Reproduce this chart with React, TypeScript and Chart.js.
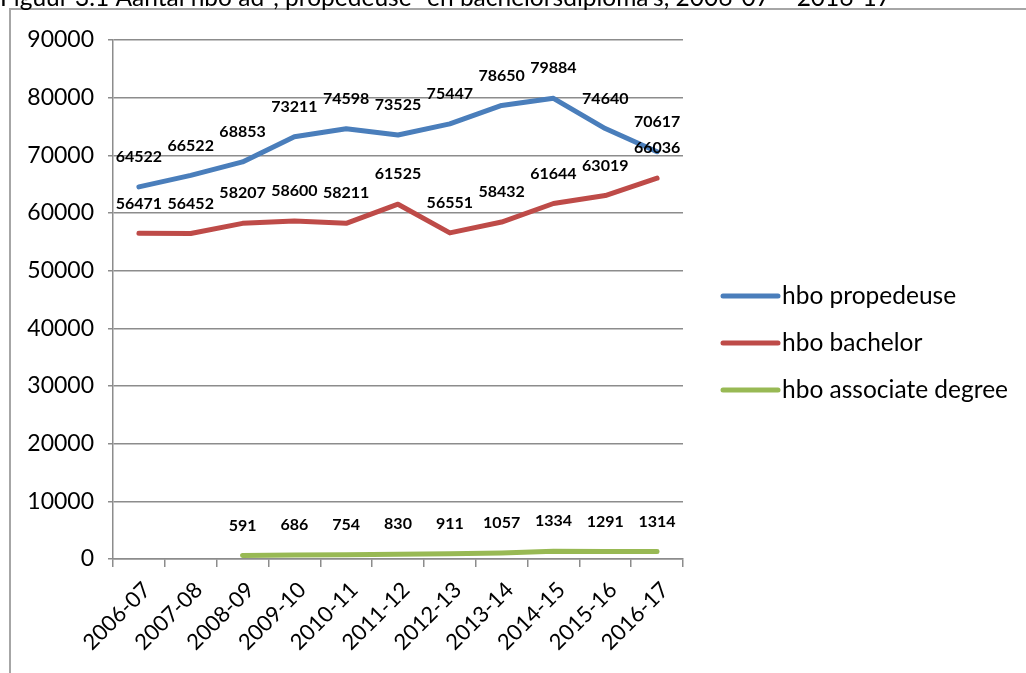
import React, { useEffect, useRef } from "react";
import { Chart, registerables } from "chart.js";

Chart.register(...registerables);

const categories = ["2006-07", "2007-08", "2008-09", "2009-10", "2010-11", "2011-12", "2012-13", "2013-14", "2014-15", "2015-16", "2016-17"];
const propedeuse = [64522, 66522, 68853, 73211, 74598, 73525, 75447, 78650, 79884, 74640, 70617];
const bachelor = [56471, 56452, 58207, 58600, 58211, 61525, 56551, 58432, 61644, 63019, 66036];
const associate = [null, null, 591, 686, 754, 830, 911, 1057, 1334, 1291, 1314];
const seriesNames = ["hbo propedeuse", "hbo bachelor", "hbo associate degree"];
const seriesColors = ["#4A7EBB", "#BE4B48", "#98B954"];
const yMin = 0;
const yMax = 90000;
const yStep = 10000;
const titleText = "Figuur 3.1 Aantal hbo ad-, propedeuse- en bachelorsdiploma's, 2006-07 – 2016-17";

const FONT = "Lato, 'Open Sans', sans-serif";
const GRID = "#8c8c8c";

const framePlugin = {
  id: "frame",
  beforeDraw(chart: any) {
    const ctx = chart.ctx;
    ctx.save();
    ctx.fillStyle = "#ffffff";
    ctx.fillRect(0, 0, chart.width, chart.height);
    ctx.strokeStyle = "#a6a6a6";
    ctx.lineWidth = 2;
    ctx.beginPath();
    ctx.moveTo(10, chart.height);
    ctx.lineTo(10, 9);
    ctx.lineTo(chart.width, 9);
    ctx.stroke();
    ctx.fillStyle = "#000";
    ctx.font = `24.5px ${FONT}`;
    ctx.textAlign = "left";
    ctx.textBaseline = "alphabetic";
    ctx.fillText(titleText, 0, 6);
    ctx.restore();
  },
};

const labelsPlugin = {
  id: "pointLabels",
  afterDatasetsDraw(chart: any) {
    const ctx = chart.ctx;
    ctx.save();
    ctx.fillStyle = "#000";
    ctx.font = `bold 16px ${FONT}`;
    ctx.textAlign = "center";
    ctx.textBaseline = "middle";
    chart.data.datasets.forEach((ds: any, i: number) => {
      const meta = chart.getDatasetMeta(i);
      meta.data.forEach((pt: any, j: number) => {
        const v = ds.data[j];
        if (v === null || v === undefined) return;
        ctx.fillText(String(v), pt.x, pt.y - 30);
      });
    });
    ctx.restore();
  },
};

const legendPlugin = {
  id: "customLegend",
  afterDraw(chart: any) {
    const ctx = chart.ctx;
    ctx.save();
    const x0 = 723;
    const x1 = 778;
    const startY = 296;
    const gap = 47;
    ctx.font = `24.5px ${FONT}`;
    ctx.textAlign = "left";
    ctx.textBaseline = "middle";
    chart.data.datasets.forEach((ds: any, i: number) => {
      const y = startY + i * gap;
      ctx.strokeStyle = ds.borderColor;
      ctx.lineWidth = 5;
      ctx.lineCap = "round";
      ctx.beginPath();
      ctx.moveTo(x0, y);
      ctx.lineTo(x1, y);
      ctx.stroke();
      ctx.fillStyle = "#000";
      ctx.fillText(ds.label, x1 + 4, y);
    });
    ctx.restore();
  },
};

export default function App() {
  const ref = useRef<HTMLCanvasElement | null>(null);

  useEffect(() => {
    if (!ref.current) return;
    const seriesData = [propedeuse, bachelor, associate];
    const chart = new Chart(ref.current, {
      type: "line",
      data: {
        labels: categories,
        datasets: seriesData.map((d, i) => ({
          label: seriesNames[i],
          data: d,
          borderColor: seriesColors[i],
          backgroundColor: seriesColors[i],
          borderWidth: 5,
          pointRadius: 0,
          tension: 0,
          borderCapStyle: "round",
          borderJoinStyle: "round",
          spanGaps: false,
        })),
      },
      options: {
        responsive: false,
        animation: false,
        layout: { padding: { left: 0, top: 40, right: 343, bottom: 0 } },
        plugins: {
          legend: { display: false },
          title: { display: false },
          tooltip: { enabled: false },
        },
        scales: {
          x: {
            offset: true,
            grid: { offset: true, drawOnChartArea: false, drawTicks: true, tickLength: 8, color: GRID, lineWidth: 1.5 },
            border: { display: true, color: GRID, width: 1.5 },
            ticks: {
              minRotation: 45,
              maxRotation: 45,
              color: "#000",
              font: { family: FONT, size: 22 },
              padding: 10,
              labelOffset: 8,
            },
            afterFit: (s: any) => {
              s.height = 114;
            },
          },
          y: {
            min: yMin,
            max: yMax,
            grid: { color: GRID, lineWidth: 1.5, tickLength: 5 },
            border: { display: true, color: GRID, width: 1.5 },
            ticks: {
              stepSize: yStep,
              color: "#000",
              font: { family: FONT, size: 23 },
              padding: 14,
              callback: (v: any) => String(v),
            },
            afterFit: (s: any) => {
              s.width = 113;
            },
          },
        },
      },
      plugins: [framePlugin, labelsPlugin, legendPlugin],
    } as any);
    return () => chart.destroy();
  }, []);

  return (
    <div style={{ position: "absolute", left: 0, top: 0, width: 1026, height: 673, overflow: "hidden" }}>
      <canvas ref={ref} width={1026} height={673} style={{ display: "block" }} />
    </div>
  );
}
